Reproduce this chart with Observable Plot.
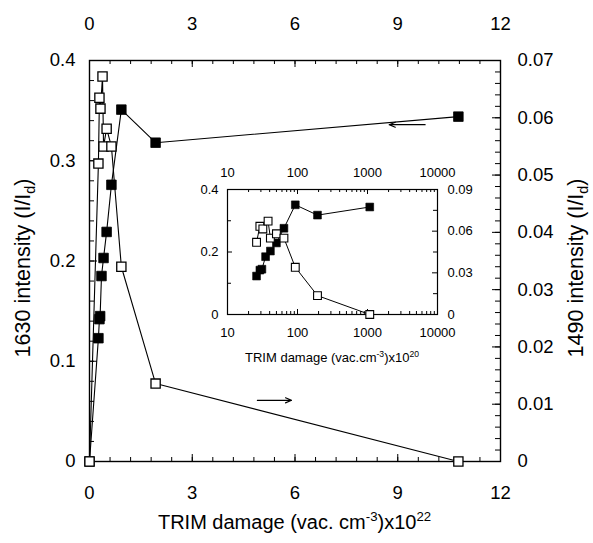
<!DOCTYPE html>
<html><head><meta charset="utf-8">
<script src="https://cdn.jsdelivr.net/npm/d3@7"></script>
<script src="https://cdn.jsdelivr.net/npm/@observablehq/plot@0.6"></script>
<style>
body{margin:0;background:#fff;}
#wrap{position:relative;width:593px;height:543px;}
#wrap svg{position:absolute;overflow:visible;}
</style></head><body><div id="wrap"></div>
<script>
// ---- data (TRIM damage in units of 1e22 vac/cm3) ----
const x1630 = [0, 0.26, 0.29, 0.31, 0.35, 0.41, 0.50, 0.64, 0.93, 1.93, 10.77];
const y1630 = [0, 0.123, 0.142, 0.145, 0.185, 0.203, 0.229, 0.276, 0.351, 0.318, 0.344];
const x1490 = [0, 0.26, 0.29, 0.32, 0.38, 0.41, 0.50, 0.64, 0.93, 1.93, 10.77];
const y1490 = [0, 0.052, 0.0635, 0.0616, 0.0672, 0.055, 0.0581, 0.055, 0.034, 0.0136, 0];
const insetFactor = 100; // 1e22 -> 1e20

// ---- tick labels ----
const xTicks = [0, 3, 6, 9, 12];
const yLeftTicks = [0, 0.1, 0.2, 0.3, 0.4];
const yRightTicks = [0, 0.01, 0.02, 0.03, 0.04, 0.05, 0.06, 0.07];
const xTicksInset = [10, 100, 1000, 10000];
const xMinorInset = [20,30,40,50,60,70,80,90,200,300,400,500,600,700,800,900,2000,3000,4000,5000,6000,7000,8000,9000];
const yLeftTicksInset = [0, 0.2, 0.4];
const yLeftMinorInset = [0.1, 0.3];
const yRightTicksInset = [0, 0.03, 0.06, 0.09];
const yRightMinorInset = [0.015, 0.045, 0.075];
// annotation arrows (left-axis units)
const arrows = [{x1: 9.8, y1: 0.336, x2: 8.75, y2: 0.336}, {x1: 4.9, y1: 0.061, x2: 5.9, y2: 0.061}];

const FONT = "Liberation Sans, Arial, sans-serif";
const kR = 0.4 / 0.07;
const fmt = v => String(+v.toFixed(3));

const filled = x1630.map((x, i) => ({x, y: y1630[i]}));
const open = x1490.map((x, i) => ({x, y: y1490[i] * kR}));

const xMinor = d3.range(0, 12.0001, 0.6);
const yLeftMinor = d3.range(0, 0.4001, 0.02);
const yRightMinor = d3.range(0, 0.07001, 0.002).map(v => v * kR);

const W = 593, H = 543;
const mL = 89, mR = 93, mT = 60, mB = 82;
const fw = W - mL - mR, fh = H - mT - mB;

const main = Plot.plot({
  width: W, height: H,
  marginLeft: mL, marginRight: mR, marginTop: mT, marginBottom: mB,
  style: {fontSize: "18.5px", fontFamily: FONT, color: "black", background: "transparent"},
  x: {domain: [0, 12]},
  y: {domain: [0, 0.4]},
  marks: [
    Plot.frame({stroke: "black", strokeWidth: 1.4}),
    // inward ticks
    Plot.tickX(xMinor, {x: d => d, insetTop: fh - 4, stroke: "black"}),
    Plot.tickX(xMinor, {x: d => d, insetBottom: fh - 4, stroke: "black"}),
    Plot.tickX(xTicks, {x: d => d, insetTop: fh - 7, stroke: "black"}),
    Plot.tickX(xTicks, {x: d => d, insetBottom: fh - 7, stroke: "black"}),
    Plot.tickY(yLeftMinor, {y: d => d, insetRight: fw - 5, stroke: "black"}),
    Plot.tickY(yLeftTicks, {y: d => d, insetRight: fw - 8, stroke: "black"}),
    Plot.tickY(yRightMinor, {y: d => d, insetLeft: fw - 5, stroke: "black"}),
    Plot.tickY(yRightTicks.map(v => v * kR), {y: d => d, insetLeft: fw - 8, stroke: "black"}),
    Plot.axisX({anchor: "bottom", ticks: xTicks, tickSize: 0, tickPadding: 24, label: null, tickFormat: fmt}),
    Plot.axisX({anchor: "top", ticks: xTicks, tickSize: 0, tickPadding: 31, label: null, tickFormat: fmt}),
    Plot.axisY({anchor: "left", ticks: yLeftTicks, tickSize: 0, tickPadding: 14, label: null, tickFormat: fmt}),
    Plot.axisY({anchor: "right", ticks: yRightTicks.map(v => v * kR), tickSize: 0, tickPadding: 17, label: null, tickFormat: d => fmt(d / kR)}),
    Plot.line(filled, {x: "x", y: "y", stroke: "black", strokeWidth: 1.1}),
    Plot.line(open, {x: "x", y: "y", stroke: "black", strokeWidth: 1.1}),
    Plot.dot(filled, {x: "x", y: "y", symbol: "square", r: 5.4, fill: "black", stroke: "black", strokeWidth: 0.8}),
    Plot.dot(open, {x: "x", y: "y", symbol: "square", r: 5.2, fill: "white", stroke: "black", strokeWidth: 1.3}),
    Plot.arrow(arrows, {x1: "x1", y1: "y1", x2: "x2", y2: "y2", stroke: "black", strokeWidth: 1.1, headLength: 9, headAngle: 45})
  ]
});

// ---- inset ----
const IW = 310, IH = 220, iL = 47, iR = 53, iT = 39, iB = 56;
const ifw = IW - iL - iR, ifh = IH - iT - iB;
const kR2 = 0.4 / 0.09;
const filledI = filled.filter(d => d.x > 0).map(d => ({x: d.x * insetFactor, y: d.y}));
const openI = x1490.map((x, i) => ({x: x * insetFactor, y: y1490[i] * kR2})).filter(d => d.x > 0);

const inset = Plot.plot({
  width: IW, height: IH,
  marginLeft: iL, marginRight: iR, marginTop: iT, marginBottom: iB,
  style: {fontSize: "13px", fontFamily: FONT, color: "black", background: "transparent"},
  x: {type: "log", domain: [10, 10000]},
  y: {domain: [0, 0.4]},
  marks: [
    Plot.frame({stroke: "black", strokeWidth: 1.2}),
    Plot.tickX(xMinorInset, {x: d => d, insetTop: ifh - 3, stroke: "black"}),
    Plot.tickX(xMinorInset, {x: d => d, insetBottom: ifh - 3, stroke: "black"}),
    Plot.tickX(xTicksInset, {x: d => d, insetTop: ifh - 5, stroke: "black"}),
    Plot.tickX(xTicksInset, {x: d => d, insetBottom: ifh - 5, stroke: "black"}),
    Plot.tickY(yLeftMinorInset, {y: d => d, insetRight: ifw - 4, stroke: "black"}),
    Plot.tickY(yLeftTicksInset, {y: d => d, insetRight: ifw - 5, stroke: "black"}),
    Plot.tickY(yRightMinorInset.map(v => v * kR2), {y: d => d, insetLeft: ifw - 4, stroke: "black"}),
    Plot.tickY(yRightTicksInset.map(v => v * kR2), {y: d => d, insetLeft: ifw - 5, stroke: "black"}),
    Plot.axisX({anchor: "bottom", ticks: xTicksInset, tickSize: 0, tickPadding: 13, label: null, tickFormat: d => String(d)}),
    Plot.axisX({anchor: "top", ticks: xTicksInset, tickSize: 0, tickPadding: 13, label: null, tickFormat: d => String(d)}),
    Plot.axisY({anchor: "left", ticks: yLeftTicksInset, tickSize: 0, tickPadding: 9, label: null, tickFormat: fmt}),
    Plot.axisY({anchor: "right", ticks: yRightTicksInset.map(v => v * kR2), tickSize: 0, tickPadding: 10, label: null, tickFormat: d => fmt(d / kR2)}),
    Plot.line(filledI, {x: "x", y: "y", stroke: "black", strokeWidth: 1}),
    Plot.line(openI, {x: "x", y: "y", stroke: "black", strokeWidth: 1}),
    Plot.dot(filledI, {x: "x", y: "y", symbol: "square", r: 4.4, fill: "black", stroke: "black", strokeWidth: 0.6}),
    Plot.dot(openI, {x: "x", y: "y", symbol: "square", r: 4.4, fill: "white", stroke: "black", strokeWidth: 1.1})
  ]
});

// rich text helper (sub/superscripts)
function rich(svg, parts, {x, y, size, rotate = 0, anchor = "middle"}) {
  const t = d3.select(svg).append("text")
    .attr("transform", `translate(${x},${y}) rotate(${rotate})`)
    .attr("text-anchor", anchor)
    .attr("font-family", FONT).attr("font-size", size).attr("fill", "black");
  let shift = 0;
  for (const p of parts) {
    const target = p.sup ? -0.38 * size : p.sub ? 0.25 * size : 0;
    t.append("tspan").attr("dy", target - shift)
      .attr("font-size", p.sup || p.sub ? size * 0.66 : size).text(p.t);
    shift = target;
  }
}

rich(main, [{t: "TRIM damage (vac. cm"}, {t: "-3", sup: true}, {t: ")x10"}, {t: "22", sup: true}],
  {x: mL + fw / 2, y: 529, size: 20});
rich(main, [{t: "1630 intensity (I/I"}, {t: "d", sub: true}, {t: ")"}],
  {x: 30, y: 268, size: 21.5, rotate: -90});
rich(main, [{t: "1490 intensity (I/I"}, {t: "d", sub: true}, {t: ")"}],
  {x: 583, y: 268, size: 21.5, rotate: -90});
rich(inset, [{t: "TRIM damage (vac.cm"}, {t: "-3", sup: true}, {t: ")x10"}, {t: "20", sup: true}],
  {x: iL + ifw / 2, y: IH - 8, size: 13});

const wrap = document.getElementById("wrap");
main.style.left = "0px"; main.style.top = "0px";
inset.style.left = "180px"; inset.style.top = "150px";
wrap.appendChild(main);
wrap.appendChild(inset);
</script></body></html>
